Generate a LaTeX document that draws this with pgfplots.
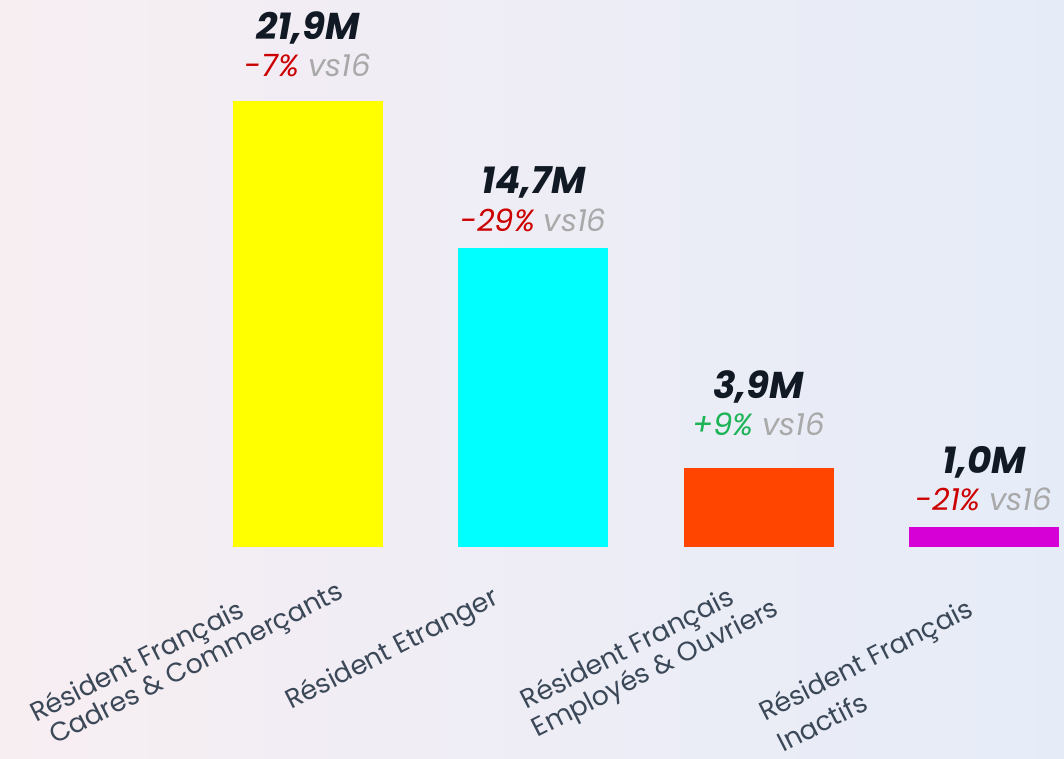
\documentclass[border=0pt]{standalone}
\usepackage{fontspec}
\setmainfont{Poppins}
\usepackage{pgfplots}
\pgfplotsset{compat=1.18}
\definecolor{bgL}{HTML}{F7EEF2}
\definecolor{bgR}{HTML}{E5ECF8}
\definecolor{cYellow}{HTML}{FFFF00}
\definecolor{cCyan}{HTML}{00FFFF}
\definecolor{cOrange}{HTML}{FF4500}
\definecolor{cMagenta}{HTML}{D600D6}
\definecolor{cVal}{HTML}{111A24}
\definecolor{cRed}{HTML}{CC0000}
\definecolor{cGreen}{HTML}{1DB357}
\definecolor{cGray}{HTML}{A9A9A9}
\definecolor{cLab}{HTML}{3B4858}
\newcommand{\val}[1]{{\fontsize{28}{30}\selectfont\bfseries\itshape\color{cVal}#1}}
\newcommand{\chg}[2]{{\fontsize{23}{24}\selectfont\itshape\textcolor{#1}{#2} \textcolor{cGray}{vs16}}}
\begin{document}
\begin{tikzpicture}
\shade[left color=bgL, right color=bgR] (0,0) rectangle (798pt,569.25pt);
\useasboundingbox (0,0) rectangle (798pt,569.25pt);
\begin{axis}[
  at={(146.475pt,159pt)}, anchor=south west,
  scale only axis, width=675.975pt, height=381.9pt,
  xmin=-0.5, xmax=3.5, ymin=0, ymax=25,
  hide axis, clip=false,
  ybar, bar width=112.5pt, bar shift=0pt,
  every node near coord/.append style={anchor=south, align=center, inner sep=0pt},
]
\addplot[fill=cYellow, draw=none, nodes near coords={\val{21,9M}\\[6.5pt]\chg{cRed}{-7\%}},
  every node near coord/.append style={yshift=17.75pt}] coordinates {(0,21.9)};
\addplot[fill=cCyan, draw=none, nodes near coords={\val{14,7M}\\[6.5pt]\chg{cRed}{-29\%}},
  every node near coord/.append style={yshift=11.75pt}] coordinates {(1,14.7)};
\addplot[fill=cOrange, draw=none, nodes near coords={\val{3,9M}\\[6.5pt]\chg{cGreen}{+9\%}},
  every node near coord/.append style={yshift=23.5pt}] coordinates {(2,3.9)};
\addplot[fill=cMagenta, draw=none, nodes near coords={\val{1,0M}\\[6.5pt]\chg{cRed}{-21\%}},
  every node near coord/.append style={yshift=11.5pt}] coordinates {(3,1.0)};
\tikzset{lab/.style={anchor=base west, rotate=27, inner sep=0pt,
  font=\fontsize{20}{22}\selectfont, text=cLab}}
\node[xshift=-204pt, yshift=-132pt, lab] at (axis cs:0,0) {Résident Français};
\node[xshift=-189.75pt, yshift=-148.5pt, lab] at (axis cs:0,0) {Cadres \& Commerçants};
\node[xshift=-181.5pt, yshift=-122.25pt, lab] at (axis cs:1,0) {Résident Etranger};
\node[xshift=-174pt, yshift=-122.25pt, lab] at (axis cs:2,0) {Résident Français};
\node[xshift=-165.75pt, yshift=-143.25pt, lab] at (axis cs:2,0) {Employés \& Ouvriers};
\node[xshift=-164.25pt, yshift=-131.25pt, lab] at (axis cs:3,0) {Résident Français};
\node[xshift=-150.75pt, yshift=-154.5pt, lab] at (axis cs:3,0) {Inactifs};
\end{axis}
\end{tikzpicture}
\end{document}
